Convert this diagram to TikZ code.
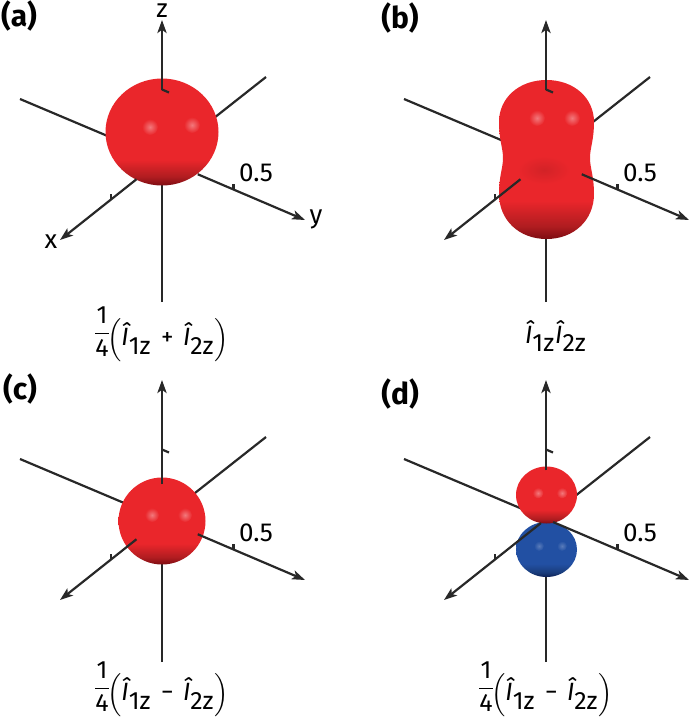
\documentclass[tikz,border=0pt]{standalone}
\usepackage{amsmath}
\usepackage{fontspec}
\setmainfont{Fira Sans}
\usepackage{tikz}
\usetikzlibrary{arrows.meta,calc}

\definecolor{sred}{RGB}{234,38,43}
\definecolor{sreddark}{RGB}{125,12,18}
\definecolor{sblue}{RGB}{34,80,163}
\definecolor{sbluedark}{RGB}{12,30,85}
\definecolor{axisgray}{RGB}{40,40,40}

\pgfdeclareverticalshading{redsurf}{100bp}{color(0bp)=(sreddark); color(25bp)=(sreddark); color(29bp)=(sred!75!black); color(37bp)=(sred); color(100bp)=(sred)}
\pgfdeclareverticalshading{bluesurf}{100bp}{color(0bp)=(sbluedark); color(25bp)=(sbluedark); color(29bp)=(sblue!75!black); color(37bp)=(sblue); color(100bp)=(sblue)}

\begin{document}
\begin{tikzpicture}[x=0.5pt, y=-0.5pt,
  axis/.style={draw=axisgray, line width=1.1pt},
  arrowaxis/.style={axis, -{Stealth[length=6.5pt, width=4.6pt, inset=1.6pt]}},
  axislabel/.style={font=\fontsize{13}{15}\selectfont, inner sep=0pt},
  panellabel/.style={font=\fontsize{15}{18}\selectfont\bfseries, inner sep=0pt},
  formula/.style={font=\fontsize{12.5}{15}\selectfont, inner sep=0pt},
  redlobe/.style={shading=redsurf},
  bluelobe/.style={shading=bluesurf},
  redshine/.style={inner color=sred!62!white, outer color=sred},
  blueshine/.style={inner color=sblue!75!white, outer color=sblue}]
\useasboundingbox (0,0) rectangle (689,719);

% panel (a)
\begin{scope}
\coordinate (ao) at (162,159);
\coordinate (axb) at (266,77);
\coordinate (axt) at (60,240);
\coordinate (ayb) at (20,99);
\coordinate (ayt) at (305,220);
\coordinate (azb) at (162,302);
\coordinate (azt) at (162,20);
\draw [axis] (axb) -- (ao);
\draw [axis] (ayb) -- (ao);
\draw [axis] (azb) -- (ao);
\shade [redlobe] (162,132) ellipse [x radius=56.5, y radius=53.5];
\shade [redshine] (150,127) circle (8);
\shade [redshine] (192,125) circle (8);
\draw [arrowaxis] ($(ao)!0.25!(axt)$) -- (axt);
\draw [arrowaxis] ($(ao)!0.25!(ayt)$) -- (ayt);
\draw [arrowaxis] ($(ao)!0.5!(azt)$) -- (azt);
\draw [axis] ($(ao)!0.5!(axt)$) -- ++(0,-6);
\draw [axis] ($(ao)!0.5!(ayt)$) -- ++(0,-6);
\draw [axis] ($(ao)!0.5!(azt)$) -- ++(7,3);
\node [axislabel] (ahalf) at (256,173) {0.5};
\node [axislabel] (azlab) at (162,10.5) {z};
\node [axislabel] (axlab) at (51,242) {x};
\node [axislabel] (aylab) at (316,219) {y};
\node [formula] (aform) at (161,334) {\raisebox{3pt}{$\dfrac{\text{1}}{\text{4}}$}$\!\left(\text{\itshape Î}_{\raisebox{-1.5pt}{\text{1z}}}\mathbin{\text{\,+\,}}\text{\itshape Î}_{\raisebox{-1.5pt}{\text{2z}}}\right)$};
\end{scope}

% panel (b)
\begin{scope}[shift={(384,0)}]
\coordinate (bo) at (162,159);
\coordinate (bxb) at (266,77);
\coordinate (bxt) at (60,240);
\coordinate (byb) at (20,99);
\coordinate (byt) at (305,220);
\coordinate (bzb) at (162,302);
\coordinate (bzt) at (162,20);
\draw [axis] (bxb) -- (bo);
\draw [axis] (byb) -- (bo);
\draw [axis] (bzb) -- (bo);
\shade [redlobe] (162.5,80) .. controls (190,80) and (210,98) .. (210,122)
  .. controls (210,140) and (206,148) .. (206,158)
  .. controls (206,168) and (210,176) .. (210,194)
  .. controls (210,220) and (190,239) .. (162.5,239)
  .. controls (135,239) and (115,220) .. (115,194)
  .. controls (115,176) and (119,168) .. (119,158)
  .. controls (119,148) and (115,140) .. (115,122)
  .. controls (115,98) and (135,80) .. (162.5,80) -- cycle;
\shade [inner color=sred!90!black, outer color=sred] (160,170) ellipse [x radius=26, y radius=14];
\shade [redshine] (153,118) circle (8);
\shade [redshine] (188,118) circle (8);
\draw [arrowaxis] ($(bo)!0.25!(bxt)$) -- (bxt);
\draw [arrowaxis] ($(bo)!0.25!(byt)$) -- (byt);
\draw [arrowaxis] ($(bo)!0.5!(bzt)$) -- (bzt);
\draw [axis] ($(bo)!0.5!(bxt)$) -- ++(0,-6);
\draw [axis] ($(bo)!0.5!(byt)$) -- ++(0,-6);
\draw [axis] ($(bo)!0.5!(bzt)$) -- ++(7,3);
\node [axislabel] (bhalf) at (256,173) {0.5};
\node [formula] (bform) at (172,336) {$\text{\itshape Î}_{\raisebox{-1.5pt}{\text{1z}}}\text{\itshape Î}_{\raisebox{-1.5pt}{\text{2z}}}$};
\end{scope}

% panel (c)
\begin{scope}[shift={(0,360)}]
\coordinate (co) at (162,159);
\coordinate (cxb) at (266,77);
\coordinate (cxt) at (60,240);
\coordinate (cyb) at (20,99);
\coordinate (cyt) at (305,220);
\coordinate (czb) at (162,302);
\coordinate (czt) at (162,20);
\draw [axis] (cxb) -- (co);
\draw [axis] (cyb) -- (co);
\draw [axis] (czb) -- (co);
\shade [redlobe] (162,161) ellipse [x radius=43.5, y radius=43.5];
\shade [redshine] (152,155) circle (7);
\shade [redshine] (185,155) circle (7);
\draw [arrowaxis] ($(co)!0.25!(cxt)$) -- (cxt);
\draw [arrowaxis] ($(co)!0.25!(cyt)$) -- (cyt);
\draw [arrowaxis] ($(co)!0.25!(czt)$) -- (czt);
\draw [axis] ($(co)!0.5!(cxt)$) -- ++(0,-6);
\draw [axis] ($(co)!0.5!(cyt)$) -- ++(0,-6);
\draw [axis] ($(co)!0.5!(czt)$) -- ++(7,3);
\node [axislabel] (chalf) at (256,173) {0.5};
\node [formula] (cform) at (161,329) {\raisebox{3pt}{$\dfrac{\text{1}}{\text{4}}$}$\!\left(\text{\itshape Î}_{\raisebox{-1.5pt}{\text{1z}}}\mathbin{\text{\,−\,}}\text{\itshape Î}_{\raisebox{-1.5pt}{\text{2z}}}\right)$};
\end{scope}

% panel (d)
\begin{scope}[shift={(384,360)}]
\coordinate (do) at (162,159);
\coordinate (dxb) at (266,77);
\coordinate (dxt) at (60,240);
\coordinate (dyb) at (20,99);
\coordinate (dyt) at (305,220);
\coordinate (dzb) at (162,302);
\coordinate (dzt) at (162,20);
\draw [axis] (dxb) -- (do);
\draw [axis] (dyb) -- (do);
\draw [axis] (dzb) -- (do);
\shade [bluelobe] (162.5,189.5) ellipse [x radius=30.5, y radius=27.5];
\shade [blueshine] (155,186) circle (5);
\shade [blueshine] (178,186) circle (5);
\shade [redlobe] (162.5,135) ellipse [x radius=30.5, y radius=28.5];
\shade [redshine] (154,133) circle (5.5);
\shade [redshine] (178,133) circle (5.5);
\draw [arrowaxis] ($(do)!0.05!(dxt)$) -- (dxt);
\draw [arrowaxis] ($(do)!0.05!(dyt)$) -- (dyt);
\draw [arrowaxis] ($(do)!0.35!(dzt)$) -- (dzt);
\draw [axis] ($(do)!0.5!(dxt)$) -- ++(0,-6);
\draw [axis] ($(do)!0.5!(dyt)$) -- ++(0,-6);
\draw [axis] ($(do)!0.5!(dzt)$) -- ++(7,3);
\node [axislabel] (dhalf) at (256,173) {0.5};
\node [formula] (dform) at (161,329) {\raisebox{3pt}{$\dfrac{\text{1}}{\text{4}}$}$\!\left(\text{\itshape Î}_{\raisebox{-1.5pt}{\text{1z}}}\mathbin{\text{\,−\,}}\text{\itshape Î}_{\raisebox{-1.5pt}{\text{2z}}}\right)$};
\end{scope}

% panel letters
\node [panellabel] (alabel) at (19,16) {(a)};
\node [panellabel] (blabel) at (400,18) {(b)};
\node [panellabel] (clabel) at (20,389) {(c)};
\node [panellabel] (dlabel) at (400,394) {(d)};
\end{tikzpicture}
\end{document}
